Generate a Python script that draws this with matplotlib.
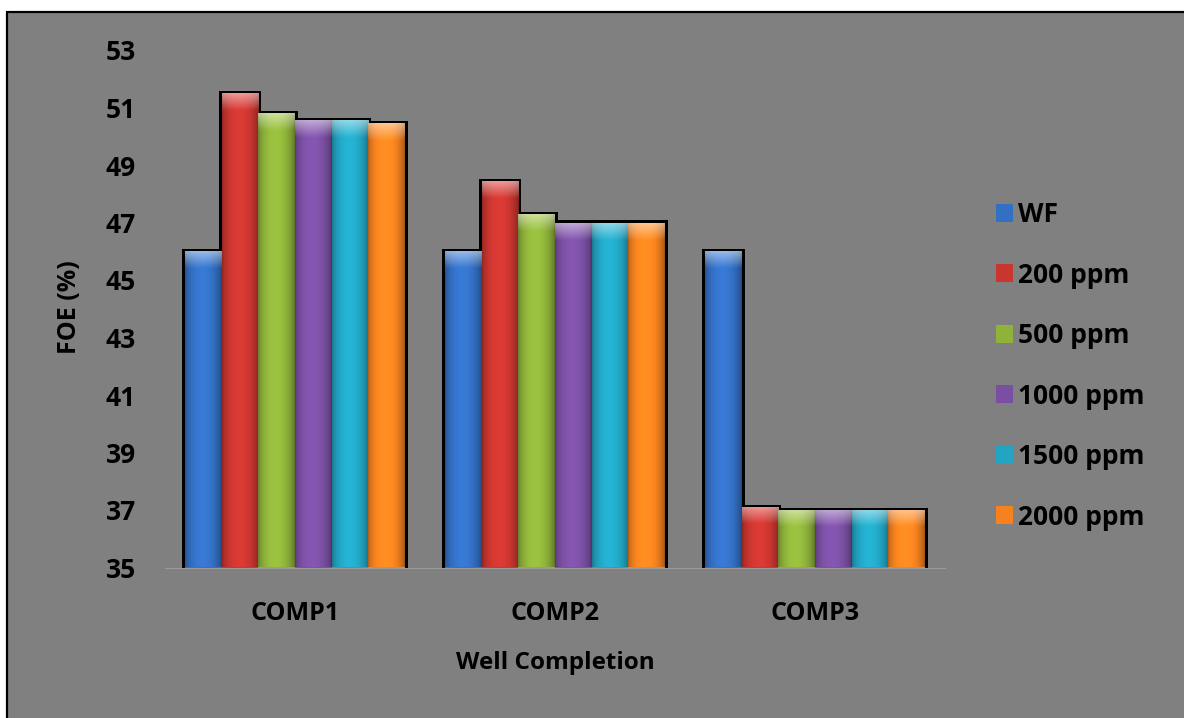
import matplotlib.pyplot as plt
import matplotlib.colors as mcolors
from matplotlib.patches import Rectangle
import numpy as np

plt.rcParams['font.family'] = ['Open Sans', 'DejaVu Sans']
plt.rcParams['font.weight'] = 'bold'

# FOE (%) per well completion and polymer concentration
completions = ['COMP1', 'COMP2', 'COMP3']
series = ['WF', '200 ppm', '500 ppm', '1000 ppm', '1500 ppm', '2000 ppm']
wf = [46.0, 46.0, 46.0]
ppm200 = [51.5, 48.45, 37.1]
ppm500 = [50.8, 47.3, 37.0]
ppm1000 = [50.55, 47.0, 37.0]
ppm1500 = [50.55, 47.0, 37.0]
ppm2000 = [50.45, 47.0, 37.0]
values = [wf, ppm200, ppm500, ppm1000, ppm1500, ppm2000]

colors = ['#336fc2', '#c9352f', '#8eb23a', '#7a4fa2', '#22a4c2', '#f5821f']
bg = '#808080'
ymin, ymax = 35, 53

fig = plt.figure(figsize=(11.84, 7.18), dpi=100, facecolor='white')
# grey chart area with black frame
fig.patches.append(Rectangle((7 / 1184, -0.05), 1.1, (718 - 12) / 718 + 0.05,
                             transform=fig.transFigure, facecolor=bg,
                             edgecolor='black', lw=1.6, zorder=-5))

ax = fig.add_axes([165 / 1184, (718 - 567.5) / 718, 780 / 1184, 517.5 / 718])
ax.set_facecolor('none')

x = np.arange(len(completions))
w = 0.141


def shade(color, top, nx=60, ny=200):
    # horizontal cylinder-like shading plus a light cap at the top
    rgb = np.array(mcolors.to_rgb(color))
    u = np.linspace(0, 1, nx)
    prof = 0.72 + 0.42 * np.sin(np.pi * u) ** 0.6 - 0.08 * u
    ys = np.linspace(top, ymin, ny)
    cap = np.clip(1 - (top - ys) / 0.6, 0, 1)[:, None]
    img = rgb[None, None, :] * prof[None, :, None]
    img = img * (1 - 0.5 * cap[..., None]) + 0.5 * cap[..., None]
    return np.clip(img, 0, 1)


for i, (name, vals, c) in enumerate(zip(series, values, colors)):
    pos = x + (i - 2.5) * w
    # soft black shadow behind each bar
    ax.bar(pos, np.array(vals) - ymin + 0.07, bottom=ymin, width=w * 1.17,
           color='black', zorder=1)
    bars = ax.bar(pos, np.array(vals) - ymin, bottom=ymin, width=w,
                  color=c, zorder=2, label=name)
    for b, v in zip(bars, vals):
        x0 = b.get_x()
        im = ax.imshow(shade(c, v), extent=[x0, x0 + w, ymin, v],
                       aspect='auto', zorder=3, interpolation='bilinear')
        im.set_clip_path(b)

ax.set_xlim(-0.5, 2.5)
ax.set_ylim(ymin, ymax)
ax.set_yticks(np.arange(35, 54, 2))
ax.set_xticks(x)
ax.set_xticklabels(completions)
ax.tick_params(axis='y', length=0, labelsize=19, pad=21)
ax.tick_params(axis='x', length=0, labelsize=18, pad=24)
for s in ['top', 'right', 'left']:
    ax.spines[s].set_visible(False)
ax.spines['bottom'].set_color('#9a9a9a')

fig.text(555 / 1184, 1 - 663 / 718, 'Well Completion', ha='center',
         va='center', fontsize=17.5)
fig.text(70 / 1184, 1 - 307 / 718, 'FOE (%)', ha='center', va='center',
         rotation=90, fontsize=18)

handles, labels = ax.get_legend_handles_labels()
leg = fig.legend(handles, labels, loc='upper left',
                 bbox_to_anchor=(996 / 1184, 1 - 201 / 718),
                 frameon=False, handlelength=0.65,
                 handleheight=0.65, handletextpad=0.2, labelspacing=1.27,
                 borderpad=0, borderaxespad=0,
                 prop={'weight': 'bold', 'size': 19})

fig.savefig('out.png', dpi=100, facecolor='white')
